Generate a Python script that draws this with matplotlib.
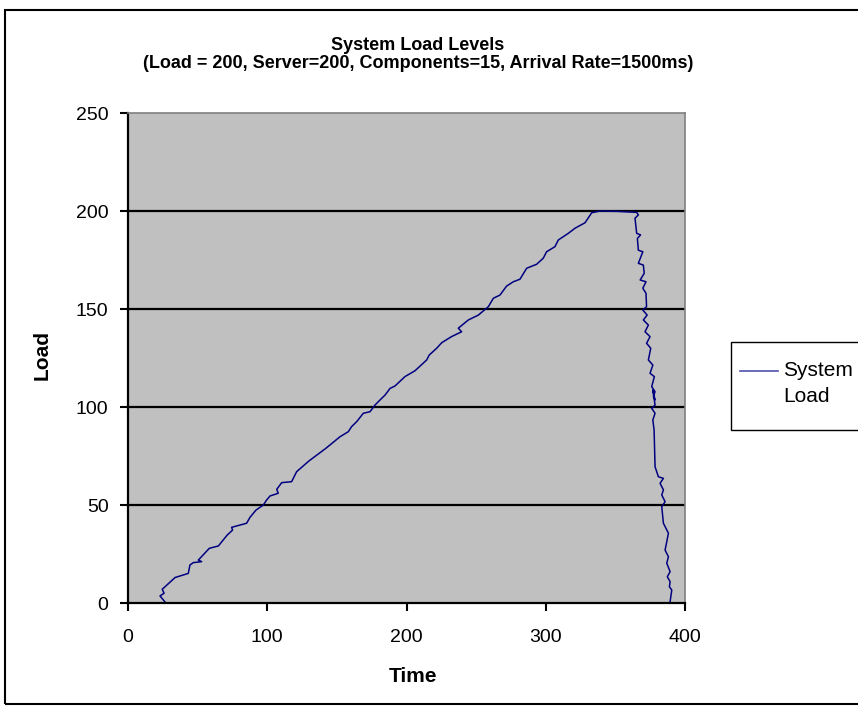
import matplotlib
matplotlib.use("Agg")
import matplotlib.pyplot as plt
from matplotlib.patches import Rectangle
from matplotlib.lines import Line2D

plt.rcParams['font.family'] = ['Liberation Sans', 'DejaVu Sans']

# System load over time: ramp-up, plateau at capacity, then drain
time = [26.6, 23.0, 25.9, 24.6, 26.6, 33.8, 39.7, 43.3, 44.5, 46.9, 52.9, 50.5,
        58.4, 64.9, 71.3, 75.1, 74.4, 85.2, 87.6, 91.9, 97.2, 99.6, 102.0, 107.9,
        106.8, 110.4, 117.5, 121.1, 130.0, 141.5, 145.0, 152.2, 158.2, 160.6,
        164.2, 169.0, 173.8, 177.4, 181.0, 184.6, 188.2, 191.7, 198.9, 206.1,
        214.5, 216.3, 221.7, 225.3, 232.3, 239.6, 237.2, 244.4, 251.6, 258.8,
        262.4, 267.1, 271.9, 276.7, 281.5, 286.3, 293.4, 298.2, 300.6, 306.6,
        309.0, 316.2, 321.0, 328.2, 333.0, 339.0, 352.0, 365.3, 366.5,
        364.1, 365.3, 368.1, 365.8, 366.5, 369.7, 366.5, 370.1, 370.7, 367.8,
        372.0, 369.7, 372.0, 372.4, 369.7, 372.8, 370.1, 373.7, 371.3, 374.9,
        372.4, 375.4, 373.7, 376.9, 374.9, 378.0, 376.1, 378.5, 377.3, 378.5,
        376.9, 378.5, 376.1, 378.5, 376.9, 377.8, 378.5, 380.9, 384.5, 382.1,
        384.5, 383.3, 385.7, 383.3, 384.5, 388.1, 385.7, 388.1, 386.9, 389.3,
        387.3, 389.3, 388.8, 390.5, 389.3]
load = [0.5, 3.6, 5.0, 7.0, 8.3, 13.0, 14.3, 15.1, 19.4, 20.6, 21.1, 21.9,
        27.9, 29.1, 34.7, 37.2, 38.6, 40.7, 43.7, 47.4, 50.0, 52.6, 54.6, 56.0,
        58.0, 61.4, 61.9, 67.0, 72.5, 78.6, 80.6, 84.8, 87.4, 90.0,
        92.5, 96.8, 97.6, 101.0, 103.6, 106.1, 109.5, 110.7, 115.5, 118.5,
        124.0, 126.5, 130.0, 132.8, 135.9, 138.4, 140.2, 144.4, 146.9, 151.2,
        155.5, 157.1, 161.7, 163.9, 165.2, 170.8, 172.8, 175.9, 179.2, 181.8,
        185.2, 188.6, 191.2, 194.0, 199.1, 200.0, 199.8, 199.3, 198.0,
        196.3, 188.6, 187.8, 186.0, 180.0, 179.2, 173.3, 172.4, 168.2, 164.8,
        163.9, 160.6, 158.0, 151.2, 149.5, 146.9, 144.4, 141.8, 138.4, 135.9,
        132.5, 130.0, 124.0, 121.4, 117.2, 115.5, 110.4, 107.8, 105.3, 103.6,
        108.7, 101.0, 99.3, 96.8, 93.4, 88.3, 69.5, 64.4, 63.6, 61.1,
        57.7, 55.1, 51.7, 49.1, 40.7, 35.6, 27.0, 23.6, 20.3, 16.0,
        13.4, 10.9, 8.3, 6.6, 0.7]

x_ticks = [0, 100, 200, 300, 400]
y_ticks = [0, 50, 100, 150, 200, 250]

W, H = 858, 709
fig = plt.figure(figsize=(W / 100, H / 100), dpi=100)


def fx(px):
    return px / W


def fy(py):
    return 1 - py / H


# outer chart frame (right edge runs off the canvas)
fig.patches.append(Rectangle((fx(5), fy(704)), 900 / W, (704 - 10) / H,
                             transform=fig.transFigure, fill=False,
                             edgecolor='black', linewidth=1.5))

ax = fig.add_axes([fx(128), fy(603), (685 - 128) / W, (603 - 113) / H])
ax.set_facecolor('#C0C0C0')
line, = ax.plot(time, load, color='#000080', linewidth=1.1)

ax.set_xlim(0, 400)
ax.set_ylim(0, 250)
ax.set_xticks(x_ticks)
ax.set_yticks(y_ticks)
ax.tick_params(axis='both', direction='out', length=6, width=1.5,
               labelsize=14, color='black')
ax.tick_params(axis='x', pad=13)
ax.tick_params(axis='y', pad=8)

for y in [50, 100, 150, 200]:
    ax.axhline(y, color='black', linewidth=1.6, zorder=1)

ax.spines['left'].set_linewidth(1.6)
ax.spines['bottom'].set_linewidth(1.6)
ax.spines['top'].set_color('#808080')
ax.spines['right'].set_color('#808080')
ax.spines['top'].set_linewidth(1.2)
ax.spines['right'].set_linewidth(1.2)

fig.text(fx(418), fy(45), 'System Load Levels', ha='center', va='center',
         fontsize=13, fontweight='bold')
fig.text(fx(418), fy(63),
         '(Load = 200, Server=200, Components=15, Arrival Rate=1500ms)',
         ha='center', va='center', fontsize=13, fontweight='bold')

fig.text(fx(42), fy(355), 'Load', rotation=90, ha='center', va='center',
         fontsize=15, fontweight='bold')
fig.text(fx(413), fy(677), 'Time', ha='center', va='center',
         fontsize=15, fontweight='bold')

# legend box, running off the right edge of the canvas
fig.patches.append(Rectangle((fx(731), fy(430)), 200 / W, (430 - 342) / H,
                             transform=fig.transFigure, facecolor='white',
                             edgecolor='black', linewidth=1.0))
fig.lines.append(Line2D([fx(740), fx(778)], [fy(371), fy(371)],
                        transform=fig.transFigure, color='#5050B0',
                        linewidth=1.2))
fig.text(fx(783), fy(371), 'System', ha='left', va='center', fontsize=15)
fig.text(fx(783), fy(397), 'Load', ha='left', va='center', fontsize=15)

fig.savefig('out.png', dpi=100)
